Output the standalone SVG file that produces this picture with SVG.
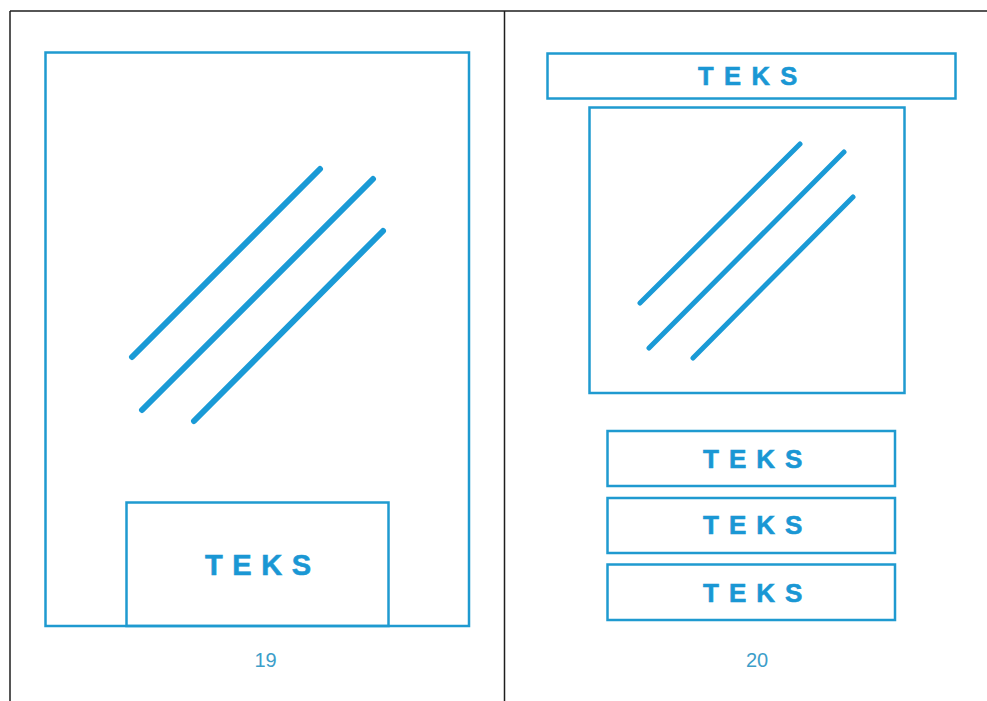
<svg xmlns="http://www.w3.org/2000/svg" width="987" height="701" viewBox="0 0 987 701">
<style>
.frame{fill:none;stroke:#1e1e1e;stroke-width:1.5}
.box{fill:none;stroke:#1f9ad0;stroke-width:2.5}
.hatch{stroke:#1a9ad6;stroke-linecap:round}
.teks{font-family:"Liberation Sans",Arial,sans-serif;font-weight:bold;fill:#1a97d4;stroke:#1a97d4;stroke-width:0.6}
.num{font-family:"Liberation Sans",Arial,sans-serif;font-size:20px;fill:#3d9ec9;text-anchor:middle}
</style>
<rect width="987" height="701" fill="#ffffff"/>
<g id="frame">
<line class="frame" x1="10" y1="11" x2="987" y2="11"/>
<line class="frame" x1="10" y1="11" x2="10" y2="701"/>
<line class="frame" x1="504.5" y1="11" x2="504.5" y2="701"/>
</g>
<g id="page19">
<g id="p19-frame"><rect class="box" x="45.5" y="52.5" width="423.5" height="573.5"/></g>
<g id="p19-image">
<line class="hatch" stroke-width="6" x1="132" y1="357" x2="320" y2="169"/>
<line class="hatch" stroke-width="6" x1="142" y1="410" x2="373" y2="179"/>
<line class="hatch" stroke-width="6" x1="194" y1="421" x2="383" y2="231"/>
</g>
<g id="p19-text">
<rect class="box" x="126.5" y="502.5" width="262" height="123.5"/>
<text class="teks" x="205" y="575" font-size="29" letter-spacing="9.6">TEKS</text>
</g>
<text id="p19-num" class="num" x="265.5" y="667">19</text>
</g>
<g id="page20">
<g id="p20-title">
<rect class="box" x="547.5" y="53.5" width="408" height="45"/>
<text class="teks" x="698" y="85" font-size="25.5" letter-spacing="10.4">TEKS</text>
</g>
<g id="p20-image">
<rect class="box" x="589.5" y="107.5" width="315" height="285.5"/>
<line class="hatch" stroke-width="5" x1="640" y1="303" x2="800" y2="144"/>
<line class="hatch" stroke-width="5" x1="649" y1="348" x2="844" y2="152"/>
<line class="hatch" stroke-width="5" x1="693" y1="358" x2="853" y2="197"/>
</g>
<g id="p20-text1">
<rect class="box" x="607.5" y="431" width="287.5" height="55"/>
<text class="teks" x="703" y="468" font-size="26" letter-spacing="10">TEKS</text>
</g>
<g id="p20-text2">
<rect class="box" x="607.5" y="498" width="287.5" height="55"/>
<text class="teks" x="703" y="534" font-size="26" letter-spacing="10">TEKS</text>
</g>
<g id="p20-text3">
<rect class="box" x="607.5" y="564.5" width="287.5" height="55.5"/>
<text class="teks" x="703" y="602" font-size="26" letter-spacing="10">TEKS</text>
</g>
<text id="p20-num" class="num" x="757" y="667">20</text>
</g>
</svg>
